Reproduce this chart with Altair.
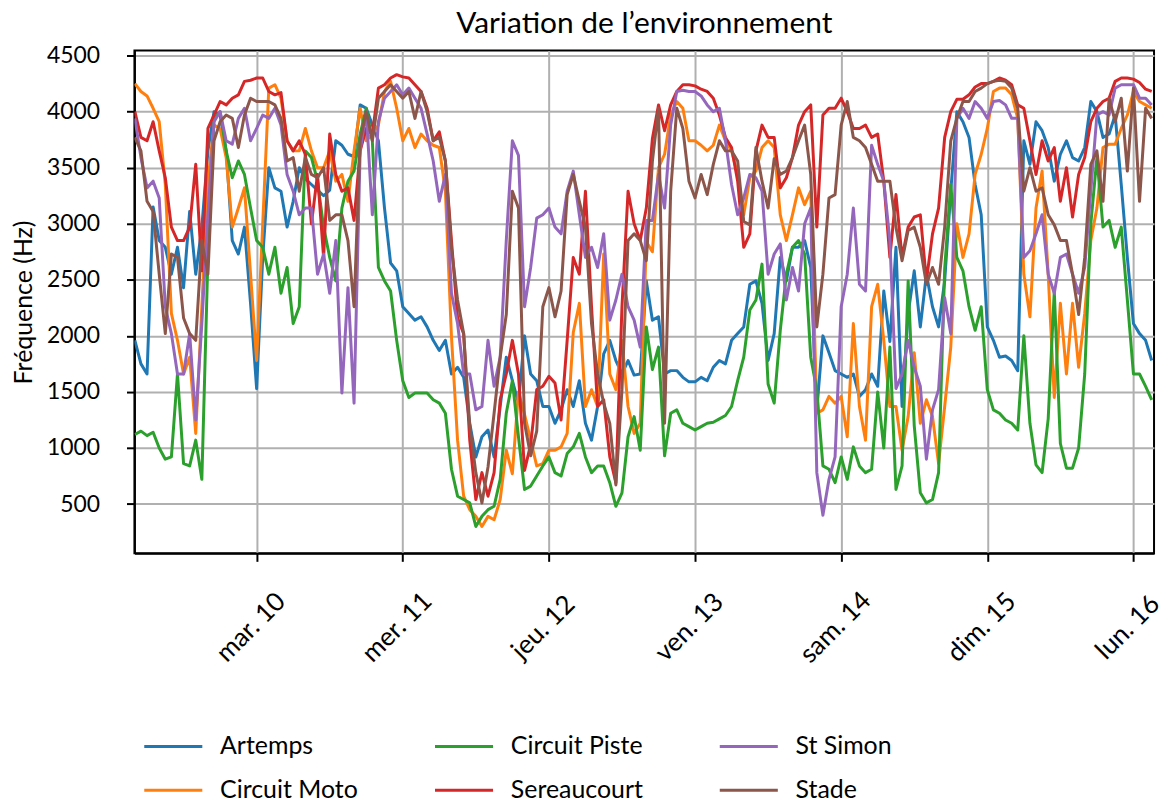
import altair as alt
import pandas as pd

# hourly samples, starting 2020-03-09 04:00
start = "2020-03-09 04:00"
n_points = 168

artemps = [
    1960, 1750, 1660, 3150, 2850, 2790, 2550, 2790, 2430, 3110,
    2550, 2970, 3650, 4000, 3970, 3650, 2850, 2730, 2970, 2290,
    1530, 2700, 3500, 3320, 3290, 2970, 3200, 3500, 3400, 3350,
    3300, 3250, 3300, 3740, 3700, 3620, 3600, 4060, 4030, 3880,
    3740, 3140, 2650, 2580, 2260, 2200, 2140, 2170, 2080, 1960,
    1870, 1960, 1660, 1720, 1630, 1220, 920, 1100, 1160, 920,
    1370, 1810, 1600, 1400, 2000, 1660, 1600, 1370, 1370, 1220,
    1340, 1520, 1370, 1600, 1220, 1070, 1370, 1840, 1960, 1780,
    1660, 1780, 1650, 1660, 2490, 2140, 2170, 1660, 1690, 1690,
    1630, 1590, 1590, 1630, 1600, 1720, 1780, 1750, 1960, 2020,
    2080, 2460, 2490, 2290, 1780, 2020, 2700, 2490, 2790, 2790,
    2850, 2610, 1340, 2000, 1850, 1690, 1660, 1630, 1660, 1460,
    1520, 1660, 1550, 2400, 1950, 2790, 1370, 2200, 2580, 2080,
    2550, 2260, 2080, 2490, 3290, 4000, 3910, 3770, 3350, 3080,
    2080, 1960, 1810, 1820, 1780, 1690, 3740, 3530, 3910, 3830,
    3680, 3380, 3620, 3740, 3590, 3560, 3680, 4090, 4000, 3770,
    3800, 3970, 3350, 2700, 2110, 2020, 1960, 1780,
]

circuit_moto = [
    4250, 4180, 4140, 4030, 3910, 3350, 2200, 1960, 1660, 1810,
    1130, 2260, 3380, 3880, 3850, 3590, 2970, 3140, 3320, 2550,
    1780, 3000, 4210, 4240, 4120, 3740, 3650, 3650, 3850, 3650,
    3500, 3500, 3650, 3380, 3440, 3200, 3650, 4030, 3740, 3800,
    3880, 4180, 4270, 4030, 3740, 3850, 3680, 3800, 3740, 3700,
    3680, 3290, 1990, 1070, 570, 450, 390, 300, 390, 360,
    540, 980, 770, 1500, 1300, 1070, 840, 860, 980, 980,
    1010, 1130, 2030, 2290, 1370, 1520, 1370, 2730, 1660, 1520,
    1960, 1370, 1130, 1220, 2840, 2750, 3500, 3620, 3970, 4090,
    4030, 3740, 3740, 3700, 3650, 3700, 3880, 3740, 3650, 3440,
    3080, 3410, 3470, 3680, 3740, 3680, 3080, 2850, 3080, 3320,
    3170, 3290, 1310, 1340, 1460, 1400, 1460, 1100, 2110, 1370,
    1070, 2260, 2460, 1960, 1370, 1370, 980, 1280, 1850, 1220,
    1430, 1280, 860, 1370, 1900, 3000, 2700, 2910, 3440, 3620,
    3850, 4180, 4210, 4210, 4150, 3940, 2550, 2170, 3140, 3470,
    2550, 1450, 2290, 1660, 2290, 1720, 2200, 2850, 3140, 3680,
    3710, 3710, 3850, 3970, 4180, 4090, 4060, 4030,
]

circuit_piste = [
    1120, 1150, 1110, 1140, 1000, 900, 920, 1660, 860, 840,
    1070, 720, 2700, 3940, 4000, 3650, 3410, 3560, 3440, 3140,
    2850, 2790, 2550, 2790, 2380, 2610, 2110, 2260, 3650, 3590,
    3380, 2970, 2700, 2490, 3140, 3380, 3470, 3800, 4030, 3740,
    2610, 2490, 2400, 1960, 1600, 1450, 1490, 1490, 1490, 1430,
    1400, 1310, 810, 570, 540, 510, 300, 390, 450, 480,
    720, 1310, 1600, 1100, 630, 660, 750, 840, 920, 780,
    750, 950, 1010, 1130, 920, 780, 840, 840, 690, 480,
    600, 1100, 1280, 980, 2080, 1700, 1900, 930, 1310, 1340,
    1220, 1190, 1160, 1190, 1220, 1230, 1260, 1290, 1370, 1600,
    1810, 2230, 2320, 2640, 1570, 1400, 2050, 2550, 2790, 2850,
    2730, 1810, 1520, 840, 810, 690, 920, 720, 1010, 840,
    780, 810, 1500, 1000, 1900, 630, 840, 2490, 1200, 600,
    510, 540, 780, 2600, 3350, 2700, 2580, 2260, 2050, 2260,
    1520, 1340, 1310, 1250, 1220, 1160, 2000, 1220, 850, 780,
    1260, 2400, 1040, 820, 820, 1000, 1660, 3000, 3590, 2970,
    3030, 2790, 2970, 2320, 1660, 1660, 1550, 1430,
]

sereaucourt = [
    4000, 3770, 3740, 3910, 3650, 3410, 2970, 2850, 2850, 2970,
    3530, 2580, 3850, 3970, 4090, 4060, 4120, 4150, 4270, 4280,
    4300, 4300, 4180, 4150, 4170, 3740, 3650, 3740, 3620, 3000,
    3440, 2700, 3800, 3440, 3290, 3320, 3030, 3650, 3850, 3800,
    4210, 4240, 4300, 4330, 4310, 4300, 4240, 4180, 4030, 3740,
    3820, 3560, 2850, 2160, 2020, 1070, 540, 780, 570, 780,
    1430, 1660, 1960, 1660, 800, 1030, 1520, 1550, 1640, 1580,
    1250, 1960, 2700, 2550, 3290, 2260, 1370, 1430, 920, 690,
    2260, 3290, 3000, 2850, 3140, 3760, 4060, 3830, 4060, 4180,
    4240, 4240, 4230, 4200, 4180, 4120, 3970, 3770, 3680, 3380,
    2790, 2910, 3650, 3880, 3770, 3770, 3320, 3410, 3590, 3880,
    4000, 4060, 2970, 3970, 4030, 4030, 4120, 4000, 3850, 3850,
    3880, 3770, 3800, 3380, 2700, 3260, 2700, 2970, 3060, 3080,
    2490, 2910, 3140, 3770, 4000, 4110, 4110, 4150, 4220, 4250,
    4250, 4270, 4300, 4280, 4240, 4060, 4030, 3740, 3440, 3740,
    3560, 3680, 3200, 3500, 3060, 3440, 3590, 3910, 4030, 4090,
    4120, 4270, 4300, 4300, 4290, 4260, 4200, 4180,
]

st_simon = [
    3940, 3590, 3320, 3380, 3230, 2260, 2020, 1660, 1660, 2020,
    1250, 2110, 3080, 3910, 4000, 3740, 3710, 3940, 4030, 3740,
    3850, 3970, 3940, 4030, 3880, 3440, 3290, 3080, 3140, 3140,
    2550, 2730, 2380, 2850, 1490, 2430, 1400, 3650, 4000, 3080,
    3910, 4120, 4180, 4240, 4150, 4210, 4120, 4030, 3800, 3560,
    3200, 3440, 2380, 2110, 1660, 1660, 1340, 1370, 1960, 1550,
    1810, 2850, 3740, 3610, 2260, 2610, 3050, 3080, 3140, 2970,
    2910, 3290, 3470, 3080, 2700, 2790, 2610, 2910, 2140, 2320,
    2550, 2260, 2140, 1900, 3030, 3030, 3440, 3140, 3880, 4180,
    4190, 4180, 4180, 4140, 4060, 4000, 4030, 3740, 3350, 3080,
    3230, 3440, 3410, 3290, 2550, 2730, 2820, 2320, 2610, 2400,
    3000, 3140, 780, 400, 720, 920, 2260, 2550, 3140, 2460,
    2400, 3700, 3530, 3380, 2850, 1530, 1660, 1960, 1720, 1550,
    900, 1340, 1520, 2340, 2020, 3940, 4030, 3940, 4090, 4030,
    3940, 4090, 4100, 4060, 3940, 3940, 2700, 2760, 2910, 3080,
    2550, 2380, 2700, 2730, 2550, 2380, 2610, 3290, 3970, 4000,
    3970, 4210, 4240, 4240, 4240, 4120, 4120, 4060,
]

stade = [
    3770, 3650, 3200, 3110, 2550, 2020, 2730, 2700, 2160, 2020,
    1960, 2850, 2550, 3740, 3910, 3970, 3940, 3680, 3970, 4120,
    4090, 4090, 4090, 4060, 3940, 3560, 3590, 3290, 3590, 3440,
    3410, 3500, 3030, 3080, 3080, 2850, 2260, 3740, 4000, 3740,
    4120, 4180, 4240, 4180, 4120, 4180, 3940, 4180, 4000, 3740,
    3770, 3560, 2780, 2320, 2020, 1200, 780, 510, 830, 1310,
    1810, 2190, 3290, 3140, 1220, 930, 1150, 2260, 2430, 2170,
    2400, 3260, 3440, 3200, 2970, 2110, 1660, 1400, 1220, 670,
    1520, 2850, 2910, 2850, 2670, 3560, 4030, 1220, 3290, 4030,
    3850, 3380, 3230, 3440, 3260, 3530, 3740, 3650, 3650, 3560,
    3020, 2990, 3680, 3380, 3140, 3580, 3440, 3470, 3590, 3740,
    3880, 3440, 2080, 2550, 3230, 3260, 3880, 4090, 3770, 3740,
    3680, 3530, 3380, 3380, 3380, 2970, 2670, 2940, 2970, 2790,
    2460, 2610, 2460, 2970, 3740, 3940, 4090, 4090, 4180, 4210,
    4250, 4270, 4280, 4270, 4210, 4030, 3290, 3500, 3290, 3320,
    3080, 2990, 2850, 2850, 2550, 2190, 2700, 3530, 3650, 3200,
    4120, 3910, 4120, 3470, 4210, 3200, 4030, 3940,
]

stations = ["Artemps", "Circuit Moto", "Circuit Piste", "Sereaucourt", "St Simon", "Stade"]
series = [artemps, circuit_moto, circuit_piste, sereaucourt, st_simon, stade]
colors = ["#1f77b4", "#ff7f0e", "#2ca02c", "#d62728", "#9467bd", "#8c564b"]

times = pd.date_range(start, periods=n_points, freq="h").strftime("%Y-%m-%dT%H:%M:%S")

FONT = "Lato"

x_enc = alt.X(
    "time:T",
    scale=alt.Scale(domain=[
        alt.DateTime(year=2020, month=3, date=9, hours=3, minutes=56),
        alt.DateTime(year=2020, month=3, date=16, hours=3, minutes=23),
    ]),
    axis=alt.Axis(
        values=[alt.DateTime(year=2020, month=3, date=d) for d in range(10, 17)],
        labelExpr="['dim.','lun.','mar.','mer.','jeu.','ven.','sam.'][day(datum.value)] + ' ' + date(datum.value)",
        labelAngle=-45,
        labelAlign="center",
        labelBaseline="middle",
        labelPadding=66,
        labelOffset=-6,
        labelFontSize=26,
        title=None,
    ),
)
y_enc = alt.Y(
    "value:Q",
    scale=alt.Scale(domain=[60, 4545], nice=False, zero=False),
    axis=alt.Axis(
        values=list(range(500, 4501, 500)),
        format="d",
        title="Fréquence (Hz)",
        titleFontSize=25,
        titlePadding=10,
        labelPadding=27,
        labelFontSize=23,
    ),
)
color_enc = alt.Color(
    "station:N",
    scale=alt.Scale(domain=stations, range=colors),
    legend=alt.Legend(
        title=None,
        orient="none",
        legendX=8,
        legendY=668,
        columns=3,
        symbolType="stroke",
        symbolStrokeWidth=3,
        symbolSize=3400,
        labelFont=FONT,
        labelFontSize=25,
        labelColor="black",
        labelOffset=16,
        columnPadding=70,
        rowPadding=-30,
    ),
)

layers = []
for name, vals in zip(stations, series):
    df = pd.DataFrame({"time": times, "value": vals, "station": name})
    layers.append(
        alt.Chart(df)
        .mark_line(strokeWidth=3, clip=True, strokeJoin="round")
        .encode(x=x_enc, y=y_enc, color=color_enc)
    )

chart = (
    alt.layer(*layers)
    .properties(
        width=1024,
        height=505,
        autosize=alt.AutoSizeParams(type="none"),
        padding={"left": 127, "top": 41, "right": 8, "bottom": 250},
        title=alt.TitleParams(
            "Variation de l’environnement",
            font=FONT,
            fontSize=30,
            fontWeight="normal",
            color="black",
            anchor="middle",
            frame="group",
            offset=6,
        ),
    )
    .configure_view(stroke="black", strokeWidth=2)
    .configure_axis(
        labelFont=FONT,
        labelColor="black",
        titleFont=FONT,
        titleFontWeight="normal",
        titleColor="black",
        domainColor="black",
        domainWidth=2,
        tickColor="black",
        tickWidth=2,
        tickSize=8,
        gridColor="#b0b0b0",
        gridWidth=2,
    )
)

chart.save("out.html", embed_options={"renderer": "svg", "actions": False})
